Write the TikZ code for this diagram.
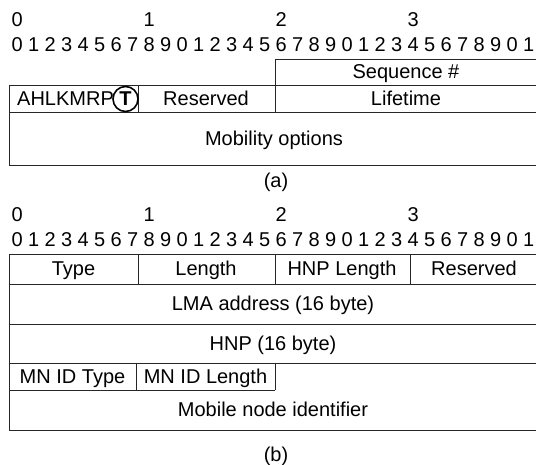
\documentclass[tikz,border=0pt]{standalone}
\usepackage{fontspec}
\setmainfont{Liberation Sans}
\begin{document}
\begin{tikzpicture}[x=1pt,y=-1pt,
  lbl/.style={inner sep=0pt,text height=14pt,text depth=0pt,font=\fontsize{20}{24}\selectfont},
  rule/.style={black!85,line width=0.9pt}]
  \useasboundingbox (0,0) rectangle (536,465);

  % bit rulers for (a) and (b)
  \foreach \yo in {0,195}{
    \foreach \d [count=\k from 0] in {0,1,2,3}
      \node[lbl] (top-\k-\yo) at (9+16.5*8*\k+8.25,20+\yo) {\d};
    \foreach \i in {0,...,31}{
      \pgfmathtruncatemacro\dig{mod(\i,10)}
      \node[lbl] (bit-\i-\yo) at (9+16.5*\i+8.25,45+\yo) {\dig};
    }
  }

  % (a) header
  \draw[rule] (275,59)--(537,59);
  \draw[rule] (275,59)--(275,112);
  \draw[rule] (9,85)--(537,85);
  \draw[rule] (9,85)--(9,165);
  \draw[rule] (138,85)--(138,112);
  \draw[rule] (9,112)--(537,112);
  \draw[rule] (9,165)--(537,165);

  \node[lbl] (seq) at (406,72) {Sequence \#};
  \node[lbl,anchor=west] (flags) at (17,98.5) {AHLKMRP};
  \node[circle,draw,line width=1.6pt,inner sep=0pt,minimum size=25pt,
        font=\fontsize{20}{24}\selectfont\bfseries] (tflag) at (125.5,99) {T};
  \node[lbl] (resa) at (206,98.5) {Reserved};
  \node[lbl] (life) at (406,98.5) {Lifetime};
  \node[lbl] (mopt) at (274,138.5) {Mobility options};
  \node[lbl] (capa) at (276,181) {(a)};

  % (b) option
  \draw[rule] (9,254)--(537,254);
  \draw[rule] (9,254)--(9,430);
  \draw[rule] (138,254)--(138,284);
  \draw[rule] (275,254)--(275,284);
  \draw[rule] (410,254)--(410,284);
  \draw[rule] (9,284)--(537,284);
  \draw[rule] (9,324)--(537,324);
  \draw[rule] (9,363)--(537,363);
  \draw[rule] (136,363)--(136,390);
  \draw[rule] (275,363)--(275,390);
  \draw[rule] (9,390)--(275,390);
  \draw[rule] (9,430)--(537,430);

  \node[lbl] (type) at (73.5,269) {Type};
  \node[lbl] (len) at (206,269) {Length};
  \node[lbl] (hnplen) at (342,269) {HNP Length};
  \node[lbl] (resb) at (474,269) {Reserved};
  \node[lbl] (lma) at (273,304) {LMA address (16 byte)};
  \node[lbl] (hnp) at (273,343.5) {HNP (16 byte)};
  \node[lbl] (mntype) at (72.5,376.5) {MN ID Type};
  \node[lbl] (mnlen) at (205.5,376.5) {MN ID Length};
  \node[lbl] (mnid) at (273,410) {Mobile node identifier};
  \node[lbl] (capb) at (276,454) {(b)};
\end{tikzpicture}
\end{document}
